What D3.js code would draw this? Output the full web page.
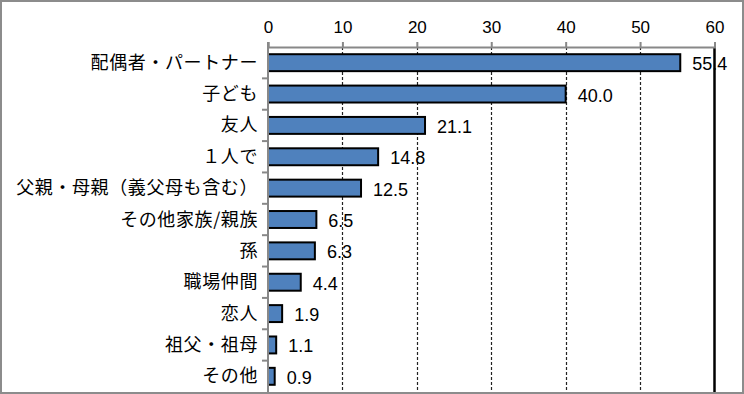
<!DOCTYPE html>
<html>
<head>
<meta charset="utf-8">
<script src="https://cdn.jsdelivr.net/npm/d3@7"></script>
<style>
    body { margin: 0; background: #fff; }
    .catLabel { font-family: "Noto Sans CJK JP", sans-serif; font-size: 18px; letter-spacing: 0.6px; }
    .tickLabel { font-family: "Liberation Sans", Arial, sans-serif; font-size: 17px; }
    .valLabel { font-family: "Liberation Sans", Arial, sans-serif; font-size: 18px; }
</style>
</head>
<body>
<script>
// categories, values and tick labels
const categories = ["配偶者・パートナー", "子ども", "友人", "１人で", "父親・母親（義父母も含む）",
    "その他家族/親族", "孫", "職場仲間", "恋人", "祖父・祖母", "その他"];
const values = [55.4, 40.0, 21.1, 14.8, 12.5, 6.5, 6.3, 4.4, 1.9, 1.1, 0.9];
const ticks = [0, 10, 20, 30, 40, 50, 60];

window.onload = function() {
    const w = 744
    const h = 394

    let svg = d3.select("body")
        .append("svg")
        .attr("width", w)
        .attr("height", h);

    // outer frame
    svg.append("rect")
        .attr("x", 1)
        .attr("y", 1)
        .attr("width", w - 2)
        .attr("height", h - 2)
        .style("fill", "#fff")
        .style("stroke", "#8c8c8c")
        .style("stroke-width", 2);

    const x = d3.scaleLinear()
        .domain([0, 60])
        .range([268, 714.5]);

    const y = d3.scaleBand()
        .domain(categories)
        .range([47, 392])
        .paddingInner(0.46)
        .paddingOuter(0.23);

    const top = 47, bottom = 392;

    //dashed gridlines
    svg.selectAll(".grid")
        .data(ticks.filter(function(d){ return d > 0 && d < 60; }))
        .enter()
        .append("line")
        .attr("class", "grid")
        .attr("x1", function(d){ return Math.round(x(d)) + 0.5; })
        .attr("x2", function(d){ return Math.round(x(d)) + 0.5; })
        .attr("y1", top)
        .attr("y2", bottom)
        .style("stroke", "#222")
        .style("stroke-width", 1.2)
        .style("stroke-dasharray", "3,2");

    //right solid line at 60
    svg.append("line")
        .attr("x1", x(60))
        .attr("x2", x(60))
        .attr("y1", top)
        .attr("y2", bottom)
        .style("stroke", "#000")
        .style("stroke-width", 2.5);

    //bars
    const data = categories.map(function(c, i){ return {cat: c, val: values[i]}; });

    svg.selectAll(".bar")
        .data(data)
        .enter()
        .append("rect")
        .attr("class", "bar")
        .attr("x", x(0))
        .attr("y", function(d){ return y(d.cat); })
        .attr("width", function(d){ return x(d.val) - x(0); })
        .attr("height", y.bandwidth())
        .style("fill", "#4f81bd")
        .style("stroke", "#000")
        .style("stroke-width", 2);

    //value labels
    svg.selectAll(".valLabel")
        .data(data)
        .enter()
        .append("text")
        .attr("class", "valLabel")
        .attr("x", function(d){ return x(d.val) + 12; })
        .attr("y", function(d){ return y(d.cat) + y.bandwidth() / 2 + 7.5; })
        .text(function(d){ return d3.format(".1f")(d.val); });

    //top axis
    const xAxis = d3.axisTop(x)
        .tickValues(ticks)
        .tickSize(5)
        .tickPadding(9)
        .tickFormat(d3.format("d"));

    const gx = svg.append("g")
        .attr("transform", "translate(0," + top + ")")
        .call(xAxis);
    gx.attr("font-family", null).attr("font-size", null);
    gx.select(".domain").style("stroke", "#888").style("stroke-width", 2);
    gx.selectAll(".tick line").style("stroke", "#888").style("stroke-width", 2);
    gx.selectAll(".tick text")
        .attr("class", "tickLabel")
        .attr("fill", "#000");

    //left axis with ticks between categories
    const gy = svg.append("g");
    gy.append("line")
        .attr("x1", x(0))
        .attr("x2", x(0))
        .attr("y1", top - 5)
        .attr("y2", bottom)
        .style("stroke", "#888")
        .style("stroke-width", 2);

    const bounds = d3.range(1, categories.length).map(function(i){ return top + i * (bottom - top) / categories.length; });
    gy.selectAll(".ytick")
        .data(bounds)
        .enter()
        .append("line")
        .attr("x1", x(0) - 6)
        .attr("x2", x(0))
        .attr("y1", function(d){ return d; })
        .attr("y2", function(d){ return d; })
        .style("stroke", "#888")
        .style("stroke-width", 2);

    //category labels
    svg.selectAll(".catLabel")
        .data(data)
        .enter()
        .append("text")
        .attr("class", "catLabel")
        .attr("text-anchor", "end")
        .attr("x", 258)
        .attr("y", function(d){ return y(d.cat) + y.bandwidth() / 2 + 6; })
        .text(function(d){ return d.cat; });
}
</script>
</body>
</html>
